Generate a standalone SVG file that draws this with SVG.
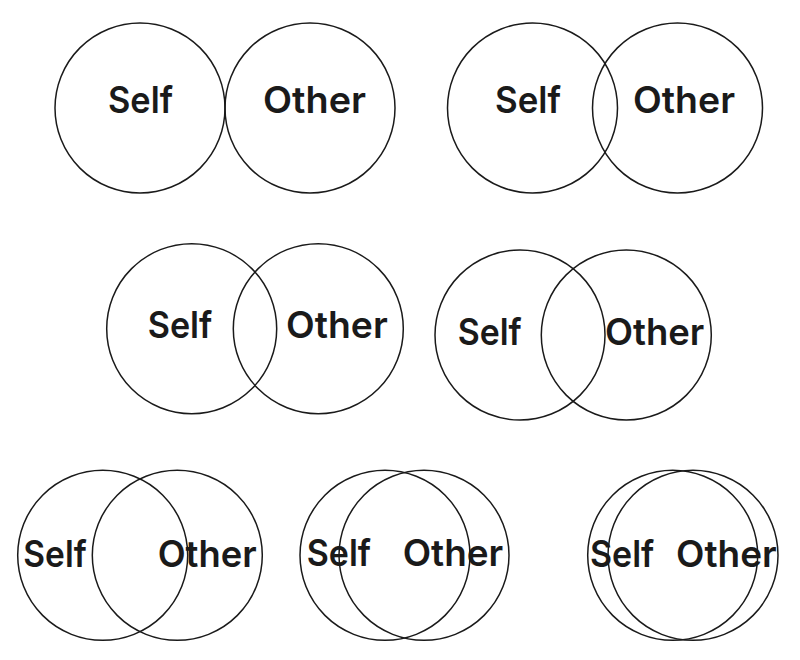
<svg xmlns="http://www.w3.org/2000/svg" width="800" height="660" viewBox="0 0 800 660">
<style>
.c{fill:none;stroke:#1a1a1a;stroke-width:1.5}
.t{font-family:Inter,"Noto Sans","Liberation Sans",sans-serif;font-weight:600;font-size:37px;fill:#1a1a1a}
</style>
<rect width="800" height="660" fill="#ffffff"/>
<g id="pair1">
<circle class="c" cx="140" cy="108" r="85"/>
<circle class="c" cx="310" cy="108" r="85"/>
<text class="t" x="108" y="113" textLength="65" lengthAdjust="spacingAndGlyphs">Self</text>
<text class="t" x="263" y="113" textLength="103" lengthAdjust="spacingAndGlyphs">Other</text>
</g>
<g id="pair2">
<circle class="c" cx="532.5" cy="108" r="85"/>
<circle class="c" cx="677.5" cy="108" r="85"/>
<text class="t" x="495" y="113" textLength="66" lengthAdjust="spacingAndGlyphs">Self</text>
<text class="t" x="633" y="113" textLength="102" lengthAdjust="spacingAndGlyphs">Other</text>
</g>
<g id="pair3">
<circle class="c" cx="191.7" cy="328.7" r="85"/>
<circle class="c" cx="318.3" cy="328.7" r="85"/>
<text class="t" x="147.7" y="338.3" textLength="64.6" lengthAdjust="spacingAndGlyphs">Self</text>
<text class="t" x="286" y="338.3" textLength="101.7" lengthAdjust="spacingAndGlyphs">Other</text>
</g>
<g id="pair4">
<circle class="c" cx="520" cy="335" r="85"/>
<circle class="c" cx="626.3" cy="335" r="85"/>
<text class="t" x="457.7" y="345" textLength="64" lengthAdjust="spacingAndGlyphs">Self</text>
<text class="t" x="605" y="345" textLength="99.3" lengthAdjust="spacingAndGlyphs">Other</text>
</g>
<g id="pair5">
<circle class="c" cx="102.7" cy="555.3" r="85"/>
<circle class="c" cx="177.3" cy="555.3" r="85"/>
<text class="t" x="23.3" y="566.7" textLength="63.4" lengthAdjust="spacingAndGlyphs">Self</text>
<text class="t" x="157.7" y="566.7" textLength="99" lengthAdjust="spacingAndGlyphs">Other</text>
</g>
<g id="pair6">
<circle class="c" cx="385" cy="555.3" r="85"/>
<circle class="c" cx="424" cy="555.3" r="85"/>
<text class="t" x="306.7" y="566.3" textLength="64.3" lengthAdjust="spacingAndGlyphs">Self</text>
<text class="t" x="402.7" y="566.3" textLength="100.6" lengthAdjust="spacingAndGlyphs">Other</text>
</g>
<g id="pair7">
<circle class="c" cx="672.7" cy="555.3" r="85"/>
<circle class="c" cx="693" cy="555.3" r="85"/>
<text class="t" x="590" y="566.7" textLength="64.3" lengthAdjust="spacingAndGlyphs">Self</text>
<text class="t" x="676" y="566.7" textLength="100.7" lengthAdjust="spacingAndGlyphs">Other</text>
</g>
<g id="connectors"/>
</svg>
